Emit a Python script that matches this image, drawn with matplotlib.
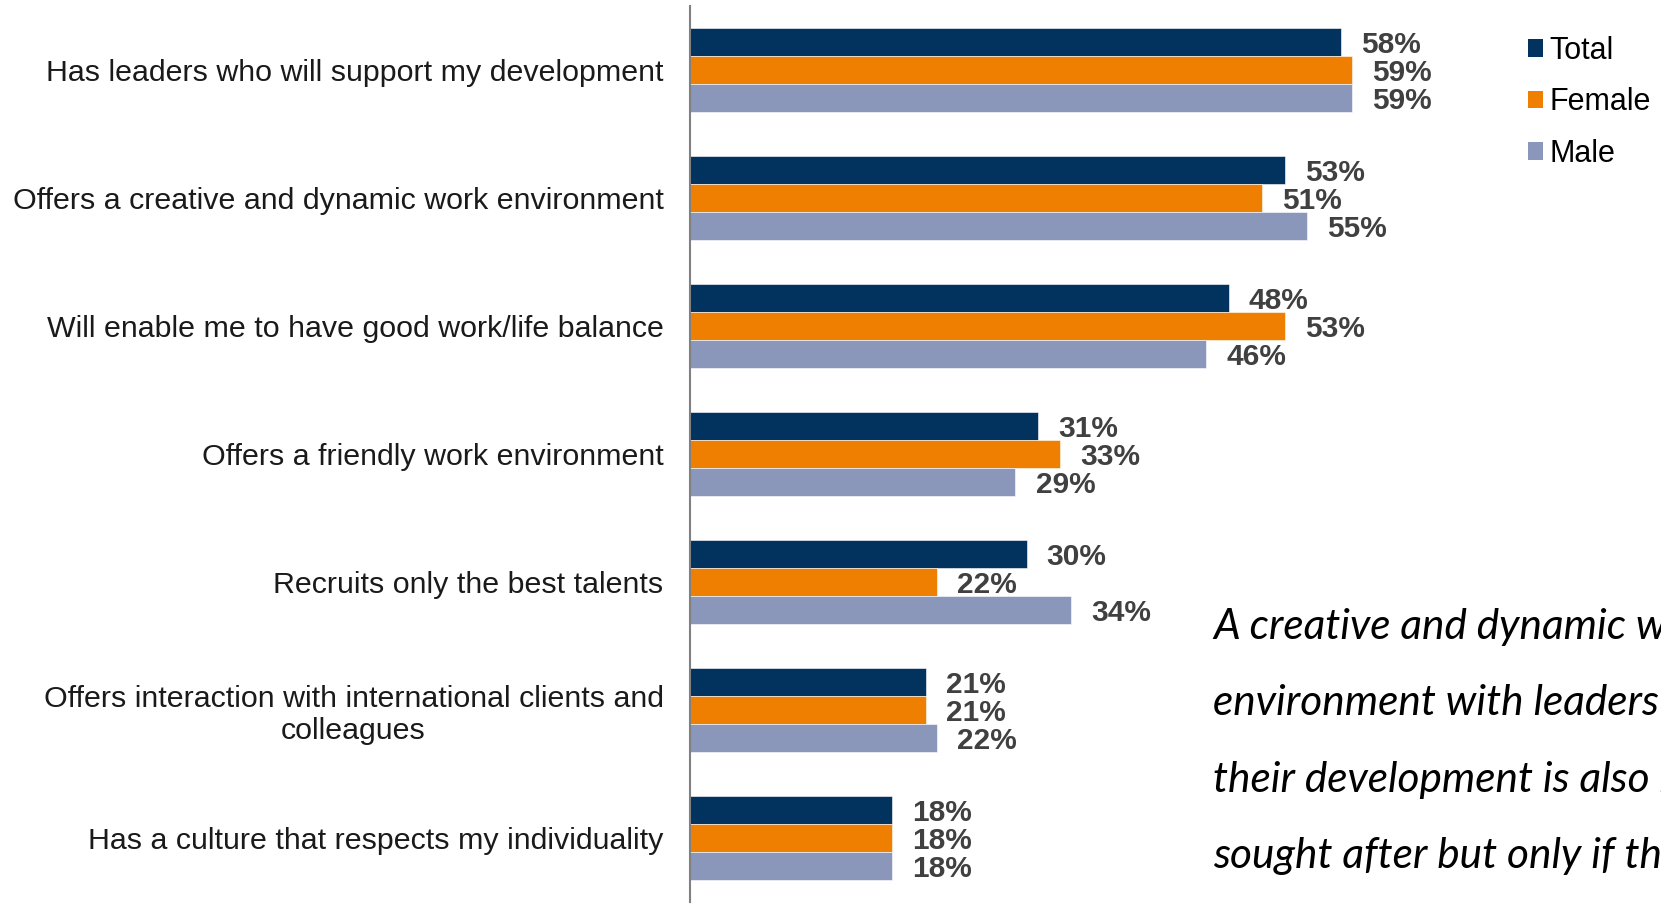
import matplotlib
matplotlib.use("Agg")
import matplotlib.pyplot as plt
from matplotlib.patches import Patch
import numpy as np

categories = [
    "Has leaders who will support my development",
    "Offers a creative and dynamic work environment",
    "Will enable me to have good work/life balance",
    "Offers a friendly work environment",
    "Recruits only the best talents",
    "Offers interaction with international clients and\ncolleagues",
    "Has a culture that respects my individuality",
]
series_names = ["Total", "Female", "Male"]
total = [58, 53, 48, 31, 30, 21, 18]
female = [59, 51, 53, 33, 22, 21, 18]
male = [59, 55, 46, 29, 34, 22, 18]
colors = ["#02335F", "#EE7F00", "#8A96BA"]

note_lines = [
    "A creative and dynamic work",
    "environment with leaders who support",
    "their development is also highly",
    "sought after but only if they are",
]

plt.rcParams["font.family"] = ["Liberation Sans", "DejaVu Sans"]

W, H = 1661, 905
fig = plt.figure(figsize=(W / 100, H / 100), dpi=100)
ax = fig.add_axes([690 / W, 3 / H, 1 - 690 / W, (902 - 6) / H])

y = np.arange(len(categories))
bh = 0.217
values = [total, female, male]
for i, (vals, col) in enumerate(zip(values, colors)):
    pos = y - bh + i * bh
    bars = ax.barh(pos, vals, height=bh, color=col, edgecolor="white", linewidth=0.4)
    for b, v in zip(bars, vals):
        ax.annotate(f"{v}%", (b.get_width(), b.get_y() + b.get_height() / 2),
                    xytext=(14.5, -2), textcoords="offset points",
                    ha="left", va="center", fontsize=21.5, fontweight="bold",
                    color="#404040")

ax.set_ylim(len(categories) - 0.5, -0.5)
ax.set_xlim(0, (W - 690) / 11.22)
ax.set_yticks(y)
ax.set_yticklabels(categories, fontsize=21.9, color="#1a1a1a", multialignment="center")
ax.tick_params(axis="y", length=0, pad=19)
ax.xaxis.set_visible(False)
for s in ["top", "right", "bottom"]:
    ax.spines[s].set_visible(False)
ax.spines["left"].set_color("#808080")
ax.spines["left"].set_linewidth(1.5)

handles = [Patch(facecolor=c, edgecolor="none") for c in colors]
fig.legend(handles, series_names, loc="upper left",
           bbox_to_anchor=(1528 / W, (H - 36) / H), frameon=False,
           fontsize=22, handlelength=0.5, handleheight=0.5,
           handletextpad=0.2, labelspacing=0.70, borderpad=0, borderaxespad=0)

for k, line in enumerate(note_lines):
    fig.text(1213 / W, (H - (627 + 76.4 * k)) / H, line, ha="left", va="center",
             fontsize=30.5, style="italic", family=["Lato", "DejaVu Sans"], color="black")

fig.savefig("out.png", dpi=100)
